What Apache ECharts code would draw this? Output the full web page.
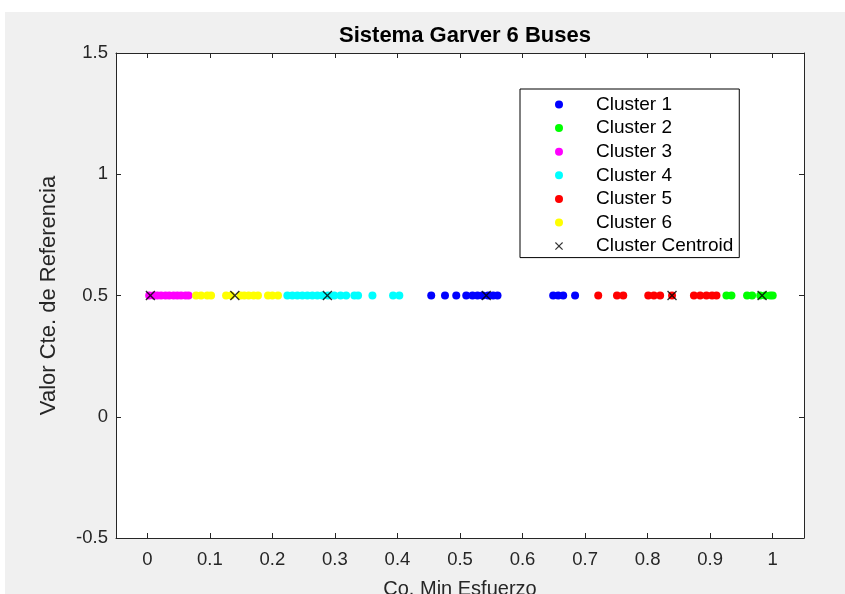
<!DOCTYPE html>
<html>
<head>
<meta charset="utf-8">
<script src="https://cdn.jsdelivr.net/npm/echarts@6/dist/echarts.min.js"></script>
<style>
  html, body { margin: 0; padding: 0; }
  #chart { width: 845px; height: 594px; }
</style>
</head>
<body>
<div id="chart"></div>
<script>
const chart = echarts.init(document.getElementById("chart"));

// x positions; every point sits at y = 0.5
const refValue = 0.5;
const cluster1 = [0.454, 0.476, 0.494, 0.510, 0.520, 0.528, 0.536, 0.545, 0.553, 0.560, 0.649, 0.657, 0.665, 0.684];
const cluster2 = [0.926, 0.934, 0.959, 0.967, 0.980, 0.988, 0.996, 1.000];
const cluster3 = [0.003, 0.010, 0.016, 0.022, 0.029, 0.035, 0.042, 0.048, 0.054, 0.061, 0.066];
const cluster4 = [0.224, 0.232, 0.240, 0.248, 0.256, 0.264, 0.272, 0.280, 0.289, 0.299, 0.309, 0.318, 0.331, 0.337, 0.360, 0.393, 0.403];
const cluster5 = [0.721, 0.751, 0.761, 0.801, 0.810, 0.820, 0.839, 0.874, 0.884, 0.894, 0.903, 0.910];
const cluster6 = [0.078, 0.086, 0.096, 0.102, 0.126, 0.134, 0.149, 0.155, 0.162, 0.170, 0.177, 0.193, 0.200, 0.209];
const centroids = [0.542, 0.983, 0.005, 0.288, 0.839, 0.140];

const clusterNames = ["Cluster 1", "Cluster 2", "Cluster 3", "Cluster 4", "Cluster 5", "Cluster 6"];
const clusterColors = ["#0000ff", "#00ff00", "#ff00ff", "#00ffff", "#ff0000", "#ffff00"];
const xTicks = [0, 0.1, 0.2, 0.3, 0.4, 0.5, 0.6, 0.7, 0.8, 0.9, 1];

const xMark = "path://M0,1L1,0L5,4L9,0L10,1L6,5L10,9L9,10L5,6L1,10L0,9L4,5Z";
const axisColor = "#262626";
const font = "'Liberation Sans', Arial, sans-serif";

const toPoints = (xs) => xs.map((x) => [x, refValue]);

const clusterSeries = [cluster1, cluster2, cluster3, cluster4, cluster5, cluster6].map((xs, i) => ({
  name: clusterNames[i],
  type: "scatter",
  data: toPoints(xs),
  symbol: "circle",
  symbolSize: 8,
  itemStyle: { color: clusterColors[i], opacity: 1 },
  emphasis: { disabled: true },
  z: 2,
}));

const centroidSeries = {
  name: "Cluster Centroid",
  type: "scatter",
  data: toPoints(centroids),
  symbol: xMark,
  symbolSize: 10,
  itemStyle: { color: "#000" },
  emphasis: { disabled: true },
  z: 3,
};

const xBase = {
  type: "value",
  min: -0.05,
  max: 1.05,
  axisLine: { show: true, onZero: false, lineStyle: { color: axisColor, width: 1 } },
  axisTick: { show: true, inside: true, length: 5, customValues: xTicks, lineStyle: { color: axisColor } },
  splitLine: { show: false },
};

const yBase = {
  type: "value",
  min: -0.5,
  max: 1.5,
  interval: 0.5,
  axisLine: { show: true, onZero: false, lineStyle: { color: axisColor, width: 1 } },
  axisTick: { show: true, inside: true, length: 5, lineStyle: { color: axisColor } },
  splitLine: { show: false },
};

chart.setOption({
  animation: false,
  backgroundColor: "#f0f0f0",
  graphic: [
    { type: "rect", shape: { x: 0, y: 0, width: 845, height: 12 }, style: { fill: "#fff" }, silent: true },
    { type: "rect", shape: { x: 0, y: 0, width: 5, height: 594 }, style: { fill: "#fff" }, silent: true },
  ],
  title: {
    text: "Sistema Garver 6 Buses",
    left: 460,
    top: 20,
    textAlign: "center",
    textStyle: { fontFamily: font, fontSize: 22, fontWeight: "bold", color: "#000" },
  },
  grid: {
    left: 116,
    top: 53,
    right: 41,
    bottom: 56,
    outerBoundsMode: "none",
    containLabel: false,
    show: true,
    backgroundColor: "#fff",
    borderWidth: 0,
  },
  legend: {
    orient: "vertical",
    left: 520,
    top: 89,
    padding: [6, 6, 2, 35],
    itemWidth: 8,
    itemHeight: 8,
    itemGap: 4.6,
    backgroundColor: "#fff",
    borderColor: "#000",
    borderWidth: 1,
    borderRadius: 0,
    selectedMode: false,
    textStyle: { fontFamily: font, fontSize: 19, color: "#000", lineHeight: 19, padding: [0, 0, 0, 28] },
    data: clusterNames.map((n) => ({ name: n, icon: "circle" })).concat([{ name: "Cluster Centroid", icon: xMark }]),
  },
  xAxis: [
    Object.assign({}, xBase, {
      position: "bottom",
      name: "Co. Min Esfuerzo",
      nameLocation: "middle",
      nameGap: 41,
      nameTextStyle: { fontFamily: font, fontSize: 20, color: axisColor },
      axisLabel: {
        customValues: xTicks,
        margin: 12,
        fontFamily: font,
        fontSize: 18.5,
        color: axisColor,
        formatter: (v) => String(+v.toFixed(2)),
      },
    }),
    Object.assign({}, xBase, { position: "top", axisLabel: { show: false } }),
  ],
  yAxis: [
    Object.assign({}, yBase, {
      position: "left",
      name: "Valor Cte. de Referencia",
      nameLocation: "middle",
      nameRotate: 90,
      nameGap: 56,
      nameTextStyle: { fontFamily: font, fontSize: 22, color: axisColor },
      axisLabel: {
        margin: 8,
        fontFamily: font,
        fontSize: 18.5,
        color: axisColor,
        formatter: (v) => String(+v.toFixed(2)),
      },
    }),
    Object.assign({}, yBase, { position: "right", axisLabel: { show: false } }),
  ],
  series: clusterSeries.concat([centroidSeries]),
});
</script>
</body>
</html>
